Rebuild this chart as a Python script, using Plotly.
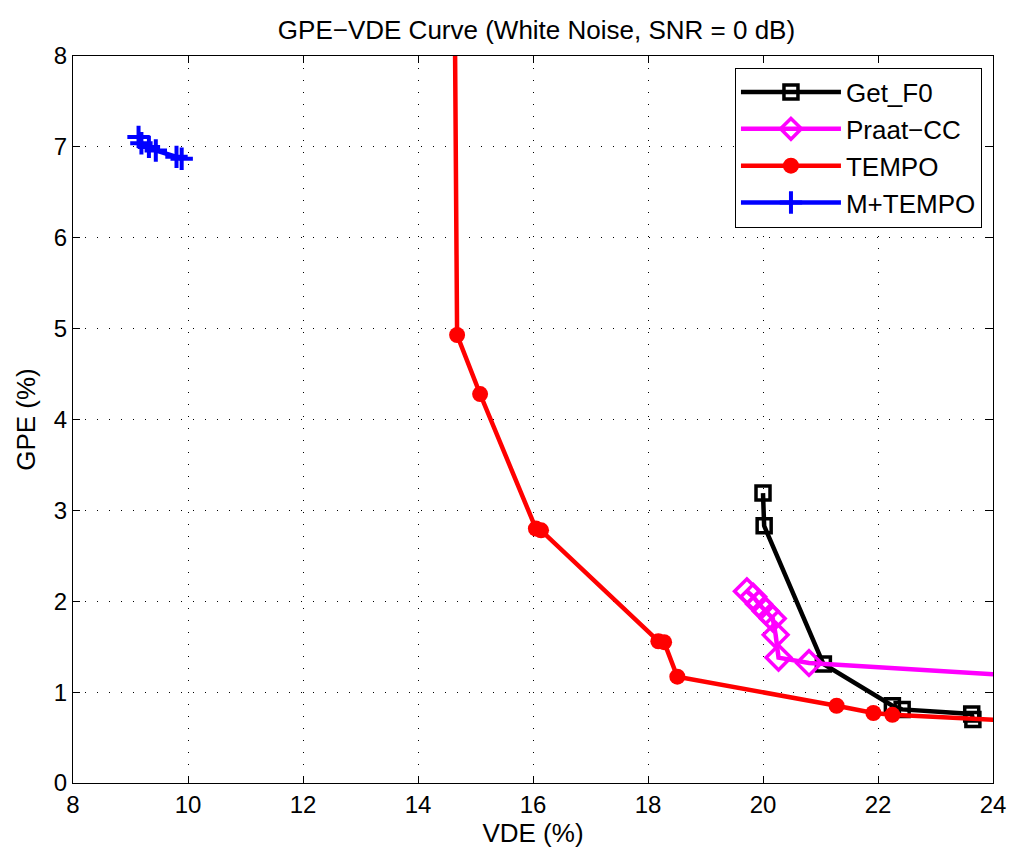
import plotly.graph_objects as go

# VDE / GPE pairs for each pitch tracker (percent)
getf0_vde = [20.0, 20.02, 21.05, 22.25, 22.42, 23.63, 23.65]
getf0_gpe = [3.19, 2.83, 1.31, 0.85, 0.81, 0.76, 0.70]

praat_vde = [19.72, 19.83, 19.93, 20.05, 20.17, 20.22, 20.27, 20.8, 25.5]
praat_gpe = [2.11, 2.05, 1.97, 1.89, 1.81, 1.63, 1.38, 1.32, 1.14]

tempo_vde = [14.6, 14.68, 15.08, 16.05, 16.14, 18.18, 18.28, 18.51, 21.28, 21.92, 22.25, 25.5]
tempo_gpe = [12.0, 4.93, 4.28, 2.80, 2.78, 1.56, 1.55, 1.17, 0.85, 0.77, 0.75, 0.65]

mtempo_vde = [9.14, 9.19, 9.32, 9.44, 9.8, 9.89]
mtempo_gpe = [7.11, 7.04, 7.0, 6.96, 6.89, 6.87]

x_ticks = [8, 10, 12, 14, 16, 18, 20, 22, 24]
y_ticks = [0, 1, 2, 3, 4, 5, 6, 7, 8]

FONT = "Liberation Sans, Arial, sans-serif"
LW = 4.5

fig = go.Figure()

fig.add_trace(go.Scatter(
    x=getf0_vde, y=getf0_gpe, name="Get_F0", mode="lines+markers",
    line=dict(color="black", width=LW),
    marker=dict(symbol="square-open", size=14, color="black", line=dict(width=3.5, color="black")),
))
fig.add_trace(go.Scatter(
    x=praat_vde, y=praat_gpe, name="Praat\u2212CC", mode="lines+markers",
    line=dict(color="#ff00ff", width=LW),
    marker=dict(symbol="diamond-open", size=19, color="#ff00ff", line=dict(width=3.5, color="#ff00ff")),
))
fig.add_trace(go.Scatter(
    x=tempo_vde, y=tempo_gpe, name="TEMPO", mode="lines+markers",
    line=dict(color="#ff0000", width=LW),
    marker=dict(symbol="circle", size=16, color="#ff0000", line=dict(width=0)),
))
fig.add_trace(go.Scatter(
    x=mtempo_vde, y=mtempo_gpe, name="M+TEMPO", mode="lines+markers",
    line=dict(color="#0000ff", width=LW),
    marker=dict(symbol="cross-thin", size=16, color="#0000ff", line=dict(width=4, color="#0000ff")),
))

axis_common = dict(
    showline=True, linecolor="black", linewidth=1, mirror="ticks",
    ticks="inside", ticklen=7, tickcolor="black", tickwidth=1,
    showgrid=True, gridcolor="black", gridwidth=1, griddash="1px,11px",
    zeroline=False, tickfont=dict(family=FONT, size=24, color="black"),
)

fig.update_xaxes(
    range=[8, 24], tickvals=x_ticks, ticktext=[str(v) for v in x_ticks],
    title=dict(text="VDE (%)", font=dict(family=FONT, size=26, color="black"), standoff=6),
    **axis_common,
)
fig.update_yaxes(
    range=[0, 8], tickvals=y_ticks, ticktext=[str(v) for v in y_ticks],
    title=dict(text="GPE (%)", font=dict(family=FONT, size=26, color="black"), standoff=10),
    **axis_common,
)

fig.update_layout(
    width=1018, height=854,
    margin=dict(l=73, r=18, t=56, b=69),
    paper_bgcolor="white", plot_bgcolor="white",
    title=dict(text="GPE\u2212VDE Curve (White Noise, SNR = 0 dB)",
               font=dict(family=FONT, size=26, color="black"),
               x=0.527, xanchor="center", y=0.965, yanchor="middle"),
    legend=dict(
        x=0.988, y=0.984, xanchor="right", yanchor="top",
        bordercolor="black", borderwidth=1, bgcolor="white",
        font=dict(family=FONT, size=26, color="black"),
        tracegroupgap=0, itemwidth=100,
    ),
    showlegend=True,
)

fig.write_html("out.html")
